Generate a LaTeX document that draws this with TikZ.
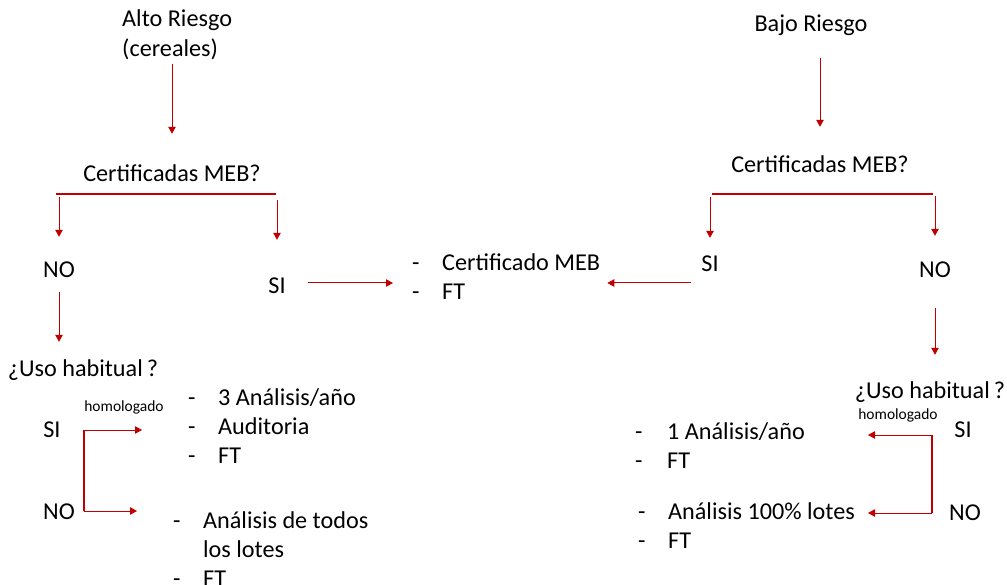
\documentclass[tikz,border=0pt]{standalone}
\usepackage{fontspec}
\setmainfont{Carlito}
\usepackage{xcolor}
\definecolor{riskred}{RGB}{192,0,0}
\usetikzlibrary{calc,arrows.meta}

\begin{document}
\begin{tikzpicture}[x=1pt, y=-1pt,
	txt/.style={font=\fontsize{24.2}{29}\selectfont, inner sep=0pt, text height=17pt, text depth=5pt},
	lst/.style={font=\fontsize{24.2}{29}\selectfont, inner sep=0pt, anchor=west},
	smalltxt/.style={font=\fontsize{15.5}{18}\selectfont, inner sep=0pt},
	redarrow/.style={draw=riskred, line width=1pt, -{Triangle[length=7pt,width=7.5pt]}},
	redbar/.style={draw=riskred, line width=2.2pt}]
	\useasboundingbox (0,0) rectangle (1007,585);

	% alto riesgo
	\node[lst, align=left, font=\fontsize{24.2}{30}\selectfont] (altoA) at (122,35) {Alto Riesgo\\(cereales)};
	\node[txt] (certA) at (172,176) {Certificadas MEB?};
	\coordinate (barAl) at (56,194);
	\coordinate (barAr) at (276,194);
	\node[txt] (noA) at (59,272) {NO};
	\node[txt] (siA) at (277,288) {SI};
	\node[txt] (usoA) at (83,371) {¿Uso habitual\,?};
	\node[smalltxt] (homA) at (124,407) {homologado};
	\node[txt] (siA2) at (52,431) {SI};
	\node[txt] (noA2) at (59,513) {NO};
	\node[lst] (listA1) at (188,429) {\begin{tabular}{@{}p{30pt}@{}l@{}} - & 3 Análisis/año\\ - & Auditoria\\ - & FT\end{tabular}};
	\node[lst] (listA2) at (173,552) {\begin{tabular}{@{}p{30pt}@{}l@{}} - & Análisis de todos\\ & los lotes\\ - & FT\end{tabular}};

	% centro
	\node[lst] (listM) at (412,279) {\begin{tabular}{@{}p{30pt}@{}l@{}} - & Certificado MEB\\ - & FT\end{tabular}};

	% bajo riesgo
	\node[txt] (bajo) at (811,26) {Bajo Riesgo};
	\node[txt] (certB) at (820,167) {Certificadas MEB?};
	\coordinate (barBl) at (712,194);
	\coordinate (barBr) at (933,194);
	\node[txt] (siB) at (710,266) {SI};
	\node[txt] (noB) at (935,272) {NO};
	\node[txt] (usoB) at (930,393) {¿Uso habitual\,?};
	\node[smalltxt] (homB) at (898,415) {homologado};
	\node[txt] (siB2) at (963,431) {SI};
	\node[txt] (noB2) at (965,514) {NO};
	\node[lst] (listB1) at (635,448) {\begin{tabular}{@{}p{32pt}@{}l@{}} - & 1 Análisis/año\\ - & FT\end{tabular}};
	\node[lst] (listB2) at (638,528) {\begin{tabular}{@{}p{30pt}@{}l@{}} - & Análisis 100\% lotes\\ - & FT\end{tabular}};

	% flechas izquierda
	\draw[redarrow, shorten <=4pt, shorten >=31pt] (certA.north |- altoA.south) -- (certA.north);
	\draw[redbar] (barAl) -- (barAr);
	\draw[redarrow, shorten <=3pt, shorten >=24pt] (noA.north |- barAl) -- (noA.north);
	\draw[redarrow, shorten <=6pt, shorten >=37pt] (siA.north |- barAr) -- (siA.north);
	\draw[redarrow, shorten <=22pt, shorten >=19pt] ([yshift=5pt]siA.east) -- ([yshift=5pt]siA.east -| listM.west);
	\draw[redarrow, shorten <=9pt, shorten >=18pt] (noA.south) -- (noA.south |- usoA.north);
	\coordinate (jA1) at (84,430);
	\coordinate (jA2) at (84,511);
	\coordinate (tipA1) at (142,430);
	\coordinate (tipA2) at (137,511);
	\draw[redbar] (jA1) -- (jA2);
	\draw[redarrow] (jA1) -- (tipA1);
	\draw[redarrow] (jA2) -- (tipA2);

	% flechas derecha
	\draw[redarrow, shorten <=21pt, shorten >=29pt] (certB.north |- bajo.south) -- (certB.north);
	\draw[redbar] (barBl) -- (barBr);
	\draw[redarrow, shorten <=3pt, shorten >=17pt] (siB.north |- barBl) -- (siB.north);
	\draw[redarrow, shorten <=2pt, shorten >=25pt] (noB.north |- barBr) -- (noB.north);
	\draw[redarrow, shorten <=10pt, shorten >=7pt] ([yshift=-17pt]siB.west) -- ([yshift=-17pt]siB.west -| listM.east);
	\draw[redarrow, shorten <=25pt, shorten >=27pt] (noB.south) -- (noB.south |- usoB.north);
	\coordinate (jB1) at (932,435);
	\coordinate (jB2) at (932,513);
	\coordinate (tipB1) at (868,435);
	\coordinate (tipB2) at (868,513);
	\draw[redbar] (jB1) -- (jB2);
	\draw[redarrow] (jB1) -- (tipB1);
	\draw[redarrow] (jB2) -- (tipB2);
\end{tikzpicture}
\end{document}
